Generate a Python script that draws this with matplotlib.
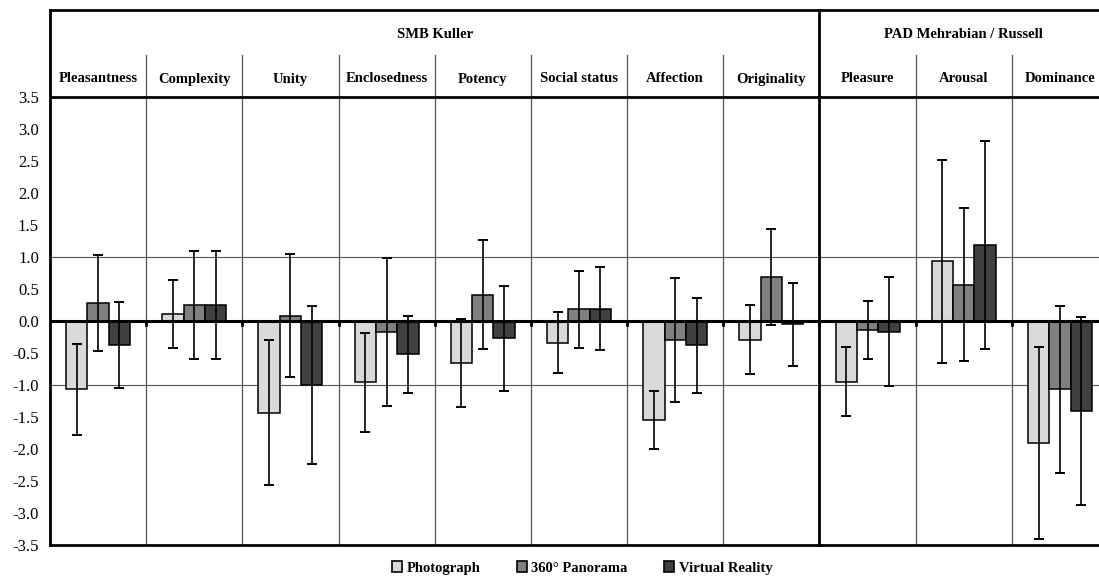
import matplotlib
matplotlib.use("Agg")
import matplotlib.pyplot as plt
import numpy as np

categories = ["Pleasantness", "Complexity", "Unity", "Enclosedness", "Potency",
              "Social status", "Affection", "Originality", "Pleasure", "Arousal", "Dominance"]
groups = ["SMB Kuller", "PAD Mehrabian / Russell"]
group_sizes = [8, 3]
series = ["Photograph", "360° Panorama", "Virtual Reality"]

photo = [-1.07, 0.11, -1.43, -0.96, -0.66, -0.34, -1.55, -0.29, -0.95, 0.93, -1.90]
photo_err = [0.71, 0.53, 1.14, 0.78, 0.69, 0.48, 0.45, 0.54, 0.54, 1.58, 1.50]
pano = [0.28, 0.25, 0.08, -0.17, 0.41, 0.18, -0.30, 0.68, -0.14, 0.57, -1.07]
pano_err = [0.75, 0.84, 0.96, 1.16, 0.85, 0.60, 0.97, 0.75, 0.46, 1.19, 1.30]
vr = [-0.38, 0.25, -1.00, -0.52, -0.27, 0.19, -0.38, -0.05, -0.17, 1.19, -1.41]
vr_err = [0.67, 0.84, 1.24, 0.60, 0.82, 0.65, 0.74, 0.65, 0.85, 1.63, 1.47]

yticks = [3.5, 3.0, 2.5, 2.0, 1.5, 1.0, 0.5, 0.0, -0.5, -1.0, -1.5, -2.0, -2.5, -3.0, -3.5]

colors = ["#d9d9d9", "#808080", "#404040"]
serif = ["Liberation Serif", "DejaVu Serif"]

fig = plt.figure(figsize=(10.99, 5.78), dpi=100)
W, H = 1099, 578
left_px, right_px, top_px, bot_px = 50, 1108, 10, 545
ax = fig.add_axes([left_px / W, (H - bot_px) / H, (right_px - left_px) / W, (bot_px - top_px) / H])

ytop = 3.5 + (97 - top_px) / 64.0
ax.set_xlim(-0.5, len(categories) - 0.5)
ax.set_ylim(-3.5, ytop)

x = np.arange(len(categories))
bw = 0.222
vals = [photo, pano, vr]
errs = [photo_err, pano_err, vr_err]
for i, (v, e, c, name) in enumerate(zip(vals, errs, colors, series)):
    xs = x + (i - 1) * bw
    ax.bar(xs, v, width=bw, color=c, edgecolor="black", linewidth=1.1, zorder=3, label=name)
    ax.errorbar(xs, v, yerr=e, fmt="none", ecolor="black", elinewidth=1.2,
                capsize=3.5, capthick=1.4, zorder=4)

# grid lines at +/-1
for gy in [1.0, -1.0]:
    ax.axhline(gy, color="#555555", linewidth=0.8, zorder=1)
# zero line
ax.axhline(0, color="black", linewidth=2.2, zorder=5)
# top of data area
ax.axhline(3.5, color="black", linewidth=2.0, zorder=5)

# header separator level
sep_top = 3.5 + (97 - 55) / 64.0
bounds = np.arange(len(categories) + 1) - 0.5
for b in bounds[1:-1]:
    if b == 7.5:
        ax.plot([b, b], [-3.5, ytop], color="black", linewidth=2.0, zorder=6, clip_on=False)
    else:
        ax.plot([b, b], [-3.5, sep_top], color="#555555", linewidth=0.9, zorder=2)
    # small tick marks on zero line
    ax.plot([b, b], [0, -0.07], color="black", linewidth=2.0, zorder=5)

# category labels
lab_y = 3.5 + (97 - 79) / 64.0
for xi, cat in zip(x, categories):
    ax.text(xi, lab_y, cat, ha="center", va="center", fontsize=10.5, fontweight="bold",
            family=serif, zorder=7)
# group labels
grp_y = 3.5 + (97 - 34) / 64.0
start = 0
for g, n in zip(groups, group_sizes):
    cx = start + (n - 1) / 2.0
    ax.text(cx, grp_y, g, ha="center", va="center", fontsize=10.5, fontweight="bold",
            family=serif, zorder=7)
    start += n

ax.set_xticks([])
ax.set_yticks(yticks)
ax.set_yticklabels([f"{t:.1f}" for t in yticks], family=serif, fontsize=12)
ax.tick_params(axis="y", length=0, pad=8)
for s in ["left", "bottom", "top"]:
    ax.spines[s].set_linewidth(2.0)
ax.spines["right"].set_visible(False)

leg = fig.legend(loc="center", bbox_to_anchor=(582 / W, (H - 568) / H), ncol=3, frameon=False,
                 prop={"family": serif, "weight": "bold", "size": 10.5},
                 handlelength=0.7, handleheight=0.7, handletextpad=0.3, columnspacing=2.5)
for p in leg.get_patches():
    p.set_linewidth(1.2)

fig.savefig("out.png", dpi=100)
